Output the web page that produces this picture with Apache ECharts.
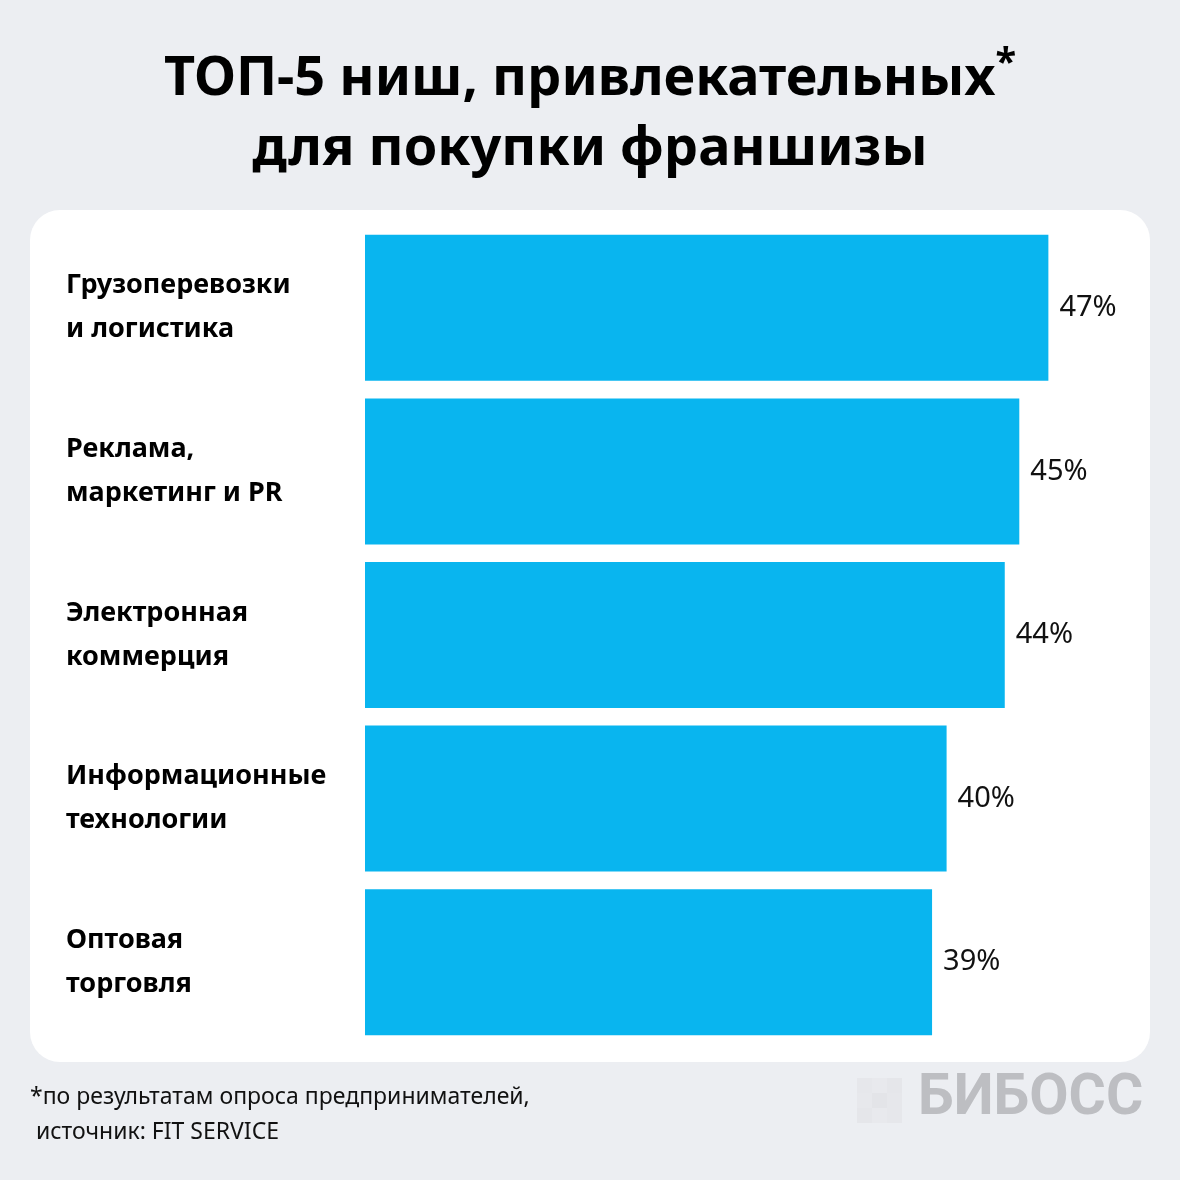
<!DOCTYPE html>
<html lang="ru">
  <head>
    <meta charset="utf-8" />
    <title>ТОП-5 ниш для покупки франшизы</title>
    <script src="https://cdn.jsdelivr.net/npm/echarts@6/dist/echarts.min.js"></script>
    <style>
      html,
      body {
        margin: 0;
        padding: 0;
        background: #eceef2;
      }
      #chart {
        width: 1180px;
        height: 1180px;
      }
    </style>
  </head>
  <body>
    <div id="chart"></div>
    <script>
      // данные
      const categories = [
        "Грузоперевозки\nи логистика",
        "Реклама,\nмаркетинг и PR",
        "Электронная\nкоммерция",
        "Информационные\nтехнологии",
        "Оптовая\nторговля",
      ];
      const values = [47, 45, 44, 40, 39];

      const chart = echarts.init(document.getElementById("chart"));

      const option = {
        backgroundColor: "#eceef2",
        animation: false,
        title: {
          text: "ТОП-5 ниш, привлекательных{s|*}\nдля покупки франшизы",
          left: "center",
          top: 40,
          textStyle: {
            fontFamily: "Noto Sans",
            fontWeight: 700,
            fontSize: 54,
            lineHeight: 70,
            color: "#000",
            rich: {
              s: {
                fontFamily: "Noto Sans",
                fontWeight: 700,
                fontSize: 38,
                verticalAlign: "top",
                padding: [0, 0, 14, 0],
              },
            },
          },
        },
        graphic: [
          {
            type: "rect",
            z: -1,
            shape: { x: 30, y: 210, width: 1120, height: 852, r: 30 },
            style: { fill: "#ffffff" },
          },
          {
            type: "text",
            left: 30,
            top: 1080,
            style: {
              text: "*по результатам опроса предпринимателей,\n источник: FIT SERVICE",
              font: "400 23px 'Noto Sans'",
              lineHeight: 35,
              fill: "#111",
            },
          },
          {
            type: "group",
            left: 857,
            top: 1078,
            children: [
              { type: "rect", shape: { x: 0, y: 0, width: 15, height: 15 }, style: { fill: "#e6e7eb" } },
              { type: "rect", shape: { x: 15, y: 0, width: 15, height: 15 }, style: { fill: "#e8e9ed" } },
              { type: "rect", shape: { x: 30, y: 0, width: 15, height: 15 }, style: { fill: "#e5e6ea" } },
              { type: "rect", shape: { x: 0, y: 15, width: 15, height: 15 }, style: { fill: "#e7e8ec" } },
              { type: "rect", shape: { x: 15, y: 15, width: 15, height: 15 }, style: { fill: "#e3e4e8" } },
              { type: "rect", shape: { x: 30, y: 15, width: 15, height: 15 }, style: { fill: "#e6e7eb" } },
              { type: "rect", shape: { x: 0, y: 30, width: 15, height: 15 }, style: { fill: "#e5e6ea" } },
              { type: "rect", shape: { x: 15, y: 30, width: 15, height: 15 }, style: { fill: "#e8e9ed" } },
              { type: "rect", shape: { x: 30, y: 30, width: 15, height: 15 }, style: { fill: "#e6e7eb" } },
            ],
          },
          {
            type: "text",
            left: 918,
            top: 1071,
            style: {
              text: "БИБОСС",
              font: "700 57px 'Roboto'",
              fill: "#bdbec2",
            },
          },
        ],
        grid: {
          left: 365,
          right: 88,
          top: 226,
          bottom: 136,
        },
        xAxis: {
          type: "value",
          min: 0,
          max: 50,
          show: false,
        },
        yAxis: {
          type: "category",
          inverse: true,
          data: categories,
          axisLine: { show: false },
          axisTick: { show: false },
          axisLabel: {
            align: "left",
            margin: 299,
            fontFamily: "Noto Sans",
            fontWeight: 700,
            fontSize: 27,
            lineHeight: 44,
            padding: [12, 0, 0, 0],
            color: "#000",
          },
        },
        series: [
          {
            type: "bar",
            data: values,
            barWidth: 146,
            itemStyle: { color: "#09b5ef" },
            label: {
              show: true,
              position: "right",
              distance: 11,
              formatter: "{c}%",
              fontFamily: "Noto Sans",
              fontSize: 29,
              padding: [6, 0, 0, 0],
              color: "#111",
            },
          },
        ],
      };

      chart.setOption(option);
    </script>
  </body>
</html>
